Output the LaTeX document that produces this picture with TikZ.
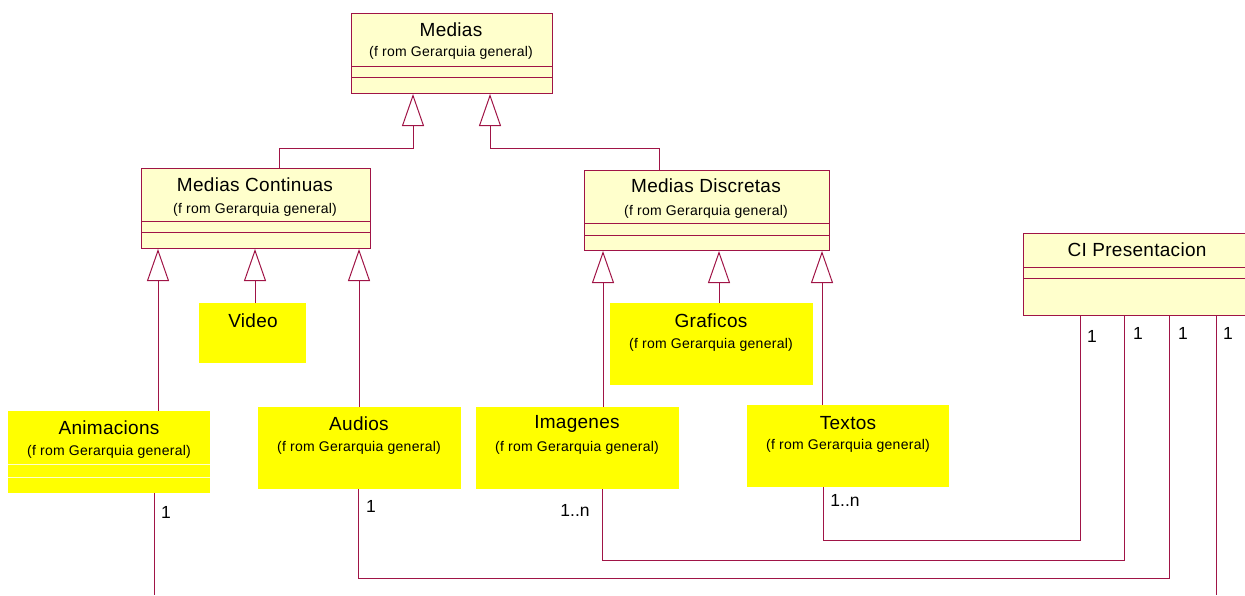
\documentclass[tikz,border=0pt]{standalone}
\usepackage{fontspec}
\setmainfont{Liberation Sans}
\usetikzlibrary{arrows.meta}
\definecolor{umlline}{RGB}{160,20,70}
\definecolor{clsfill}{RGB}{255,255,204}
\definecolor{notefill}{RGB}{255,255,0}
\tikzset{
  x=1pt, y=-1pt,
  cls/.style={draw=umlline, fill=clsfill, line width=1pt, anchor=north west, inner sep=0pt},
  note/.style={fill=notefill, draw=none, anchor=north west, inner sep=0pt},
  ttl/.style={font=\fontsize{19}{21}\selectfont\addfontfeatures{LetterSpace=1.5}, inner sep=0pt},
  frm/.style={font=\fontsize{14}{16}\selectfont\addfontfeatures{LetterSpace=2}, inner sep=0pt},
  mult/.style={font=\fontsize{17.5}{19}\selectfont, inner sep=0pt},
  link/.style={draw=umlline, line width=1pt},
  gen/.style={link, -{Triangle[open, length=32pt, width=22pt, line width=1pt]}},
  sep/.style={draw=umlline, line width=1pt},
  lsep/.style={draw=clsfill, line width=0.8pt}
}
\begin{document}
\begin{tikzpicture}
\useasboundingbox (0,0) rectangle (1245,595);

% class boxes
\node[cls, minimum width=201pt, minimum height=80pt] (medias) at (351,13) {};
\node[cls, minimum width=229pt, minimum height=80pt] (mc) at (141,168) {};
\node[cls, minimum width=245pt, minimum height=80pt] (md) at (584,170) {};
\node[cls, minimum width=230pt, minimum height=82pt] (ci) at (1023,233) {};

% compartments
\draw[sep] (medias.west |- 0,66) -- (medias.east |- 0,66);
\draw[sep] (medias.west |- 0,77) -- (medias.east |- 0,77);
\draw[sep] (mc.west |- 0,221) -- (mc.east |- 0,221);
\draw[sep] (mc.west |- 0,232) -- (mc.east |- 0,232);
\draw[sep] (md.west |- 0,223) -- (md.east |- 0,223);
\draw[sep] (md.west |- 0,235) -- (md.east |- 0,235);
\draw[sep] (ci.west |- 0,267) -- (ci.east |- 0,267);
\draw[sep] (ci.west |- 0,278) -- (ci.east |- 0,278);

% notes
\node[note, minimum width=202pt, minimum height=82pt] (anim) at (8,411) {};
\node[note, minimum width=107pt, minimum height=60pt] (video) at (199,303) {};
\node[note, minimum width=203pt, minimum height=82pt] (audios) at (258,407) {};
\node[note, minimum width=203pt, minimum height=82pt] (imag) at (476,407) {};
\node[note, minimum width=203pt, minimum height=82pt] (graf) at (610,303) {};
\node[note, minimum width=202pt, minimum height=82pt] (textos) at (747,405) {};
\draw[lsep] (anim.west |- 0,464) -- (anim.east |- 0,464);
\draw[lsep] (anim.west |- 0,477) -- (anim.east |- 0,477);

% titles
\node[ttl] at (451,30) {Medias};
\node[frm] at (451,53) {(f rom Gerarquia general)};
\node[ttl] at (255,185) {Medias Continuas};
\node[frm] at (255,210) {(f rom Gerarquia general)};
\node[ttl] at (706,186) {Medias Discretas};
\node[frm] at (706,212) {(f rom Gerarquia general)};
\node[ttl] at (1137,250) {CI Presentacion};
\node[ttl] at (109,428) {Animacions};
\node[frm] at (109,452) {(f rom Gerarquia general)};
\node[ttl] at (253,321) {Video};
\node[ttl] at (359,424) {Audios};
\node[frm] at (359,448) {(f rom Gerarquia general)};
\node[ttl] at (577,424) {Imagenes};
\node[frm] at (577,448) {(f rom Gerarquia general)};
\node[ttl] at (711,321) {Graficos};
\node[frm] at (711,345) {(f rom Gerarquia general)};
\node[ttl] at (848,423) {Textos};
\node[frm] at (848,446) {(f rom Gerarquia general)};

% generalizations
\draw[gen] (279,0 |- mc.north) -- (279,148) -- (413,148) -- (413,0 |- medias.south);
\draw[gen] (659,0 |- md.north) -- (659,148) -- (490,148) -- (490,0 |- medias.south);
\draw[gen] (158,0 |- anim.north) -- (158,0 |- mc.south);
\draw[gen] (255,0 |- video.north) -- (255,0 |- mc.south);
\draw[gen] (359,0 |- audios.north) -- (359,0 |- mc.south);
\draw[gen] (603,0 |- imag.north) -- (603,0 |- md.south);
\draw[gen] (719,0 |- graf.north) -- (719,0 |- md.south);
\draw[gen] (822,0 |- textos.north) -- (822,0 |- md.south);

% associations
\coordinate (animend) at (154,595);
\coordinate (ciend) at (1216,595);
\draw[link] (823,0 |- textos.south) -- (823,540) -- (1080,540) -- (1080,0 |- ci.south);
\draw[link] (602,0 |- imag.south) -- (602,560) -- (1124,560) -- (1124,0 |- ci.south);
\draw[link] (358,0 |- audios.south) -- (358,578) -- (1169,578) -- (1169,0 |- ci.south);
\draw[link] (1216,0 |- ci.south) -- (ciend);
\draw[link] (154,0 |- anim.south) -- (animend);

% multiplicities
\node[mult] at (166,512) {1};
\node[mult] at (371,506) {1};
\node[mult] at (575,510) {1..n};
\node[mult] at (845,500) {1..n};
\node[mult] at (1092,336) {1};
\node[mult] at (1138,333) {1};
\node[mult] at (1183,333) {1};
\node[mult] at (1228,333) {1};
\end{tikzpicture}
\end{document}
